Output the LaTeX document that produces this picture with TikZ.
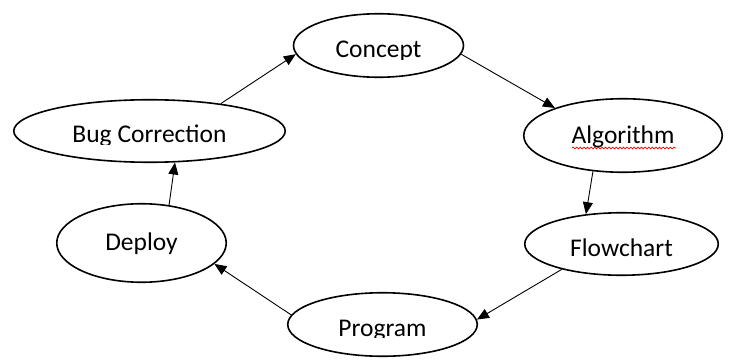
\documentclass[tikz,border=0pt]{standalone}
\usepackage{fontspec}
\setmainfont{Carlito}
\usetikzlibrary{arrows.meta,shapes.geometric,calc,decorations.pathmorphing}
\begin{document}
\begin{tikzpicture}[x=1pt,y=-1pt,
  stage/.style={ellipse, draw, line width=1.6pt, inner sep=0pt},
  lbl/.style={anchor=base, inner sep=0pt, font=\fontsize{25.5}{30}\selectfont},
  flow/.style={line width=0.9pt, -{Triangle[length=12pt,width=10pt]}},
  spell/.style={red, line width=0.7pt, decorate, decoration={snake, amplitude=0.9pt, segment length=3.6pt}}]
\useasboundingbox (0,0) rectangle (746,361);
% stages
\node[stage, minimum width=170pt, minimum height=63.5pt] (c) at (378.5,45.5) {};
\node[stage, minimum width=198.5pt, minimum height=73.5pt] (a) at (623,135.5) {};
\node[stage, minimum width=193.5pt, minimum height=62.5pt] (f) at (621.5,244) {};
\node[stage, minimum width=189.5pt, minimum height=63.5pt] (p) at (382.5,324.5) {};
\node[stage, minimum width=169.5pt, minimum height=78.5pt] (d) at (141.5,243) {};
\node[stage, minimum width=271.5pt, minimum height=62.5pt] (b) at (149.5,131) {};
% labels
\begin{scope}
  \clip ($(c.center)+(-90,-35)$) rectangle ($(c.center)+(90,14)$);
  \node[lbl] (ct) at ($(c.center)+(0,12.5)$) {Concept};
\end{scope}
\node[lbl] (at) at ($(a.center)+(0,7.5)$) {Algorithm};
\draw[spell] ($(a.center)+(-51,12.5)$) -- ($(a.center)+(53,12.5)$);
\node[lbl] (ft) at ($(f.center)+(0,12)$) {Flowchart};
\begin{scope}
  \clip ($(p.center)+(-100,-35)$) rectangle ($(p.center)+(100,13)$);
  \node[lbl] (pt) at ($(p.center)+(0,11.5)$) {Program};
\end{scope}
\node[lbl] (dt) at ($(d.center)+(0,7)$) {Deploy};
\begin{scope}
  \clip ($(b.center)+(-140,-35)$) rectangle ($(b.center)+(140,13.2)$);
  \node[lbl] (bt) at ($(b.center)+(0,11.7)$) {Bug Correction};
\end{scope}
% connectors
\draw[flow] (b.21.8) -- (c.186.6);
\draw[flow] (c.-6.3) -- (a.158.6);
\draw[flow] (a.230.5) -- (f.140.8);
\draw[flow] (f.203.9) -- (p.3.6);
\draw[flow] (p.174.3) -- (d.-16.2);
\draw[flow] (d.54.3) -- (b.-51.4);
\end{tikzpicture}
\end{document}
